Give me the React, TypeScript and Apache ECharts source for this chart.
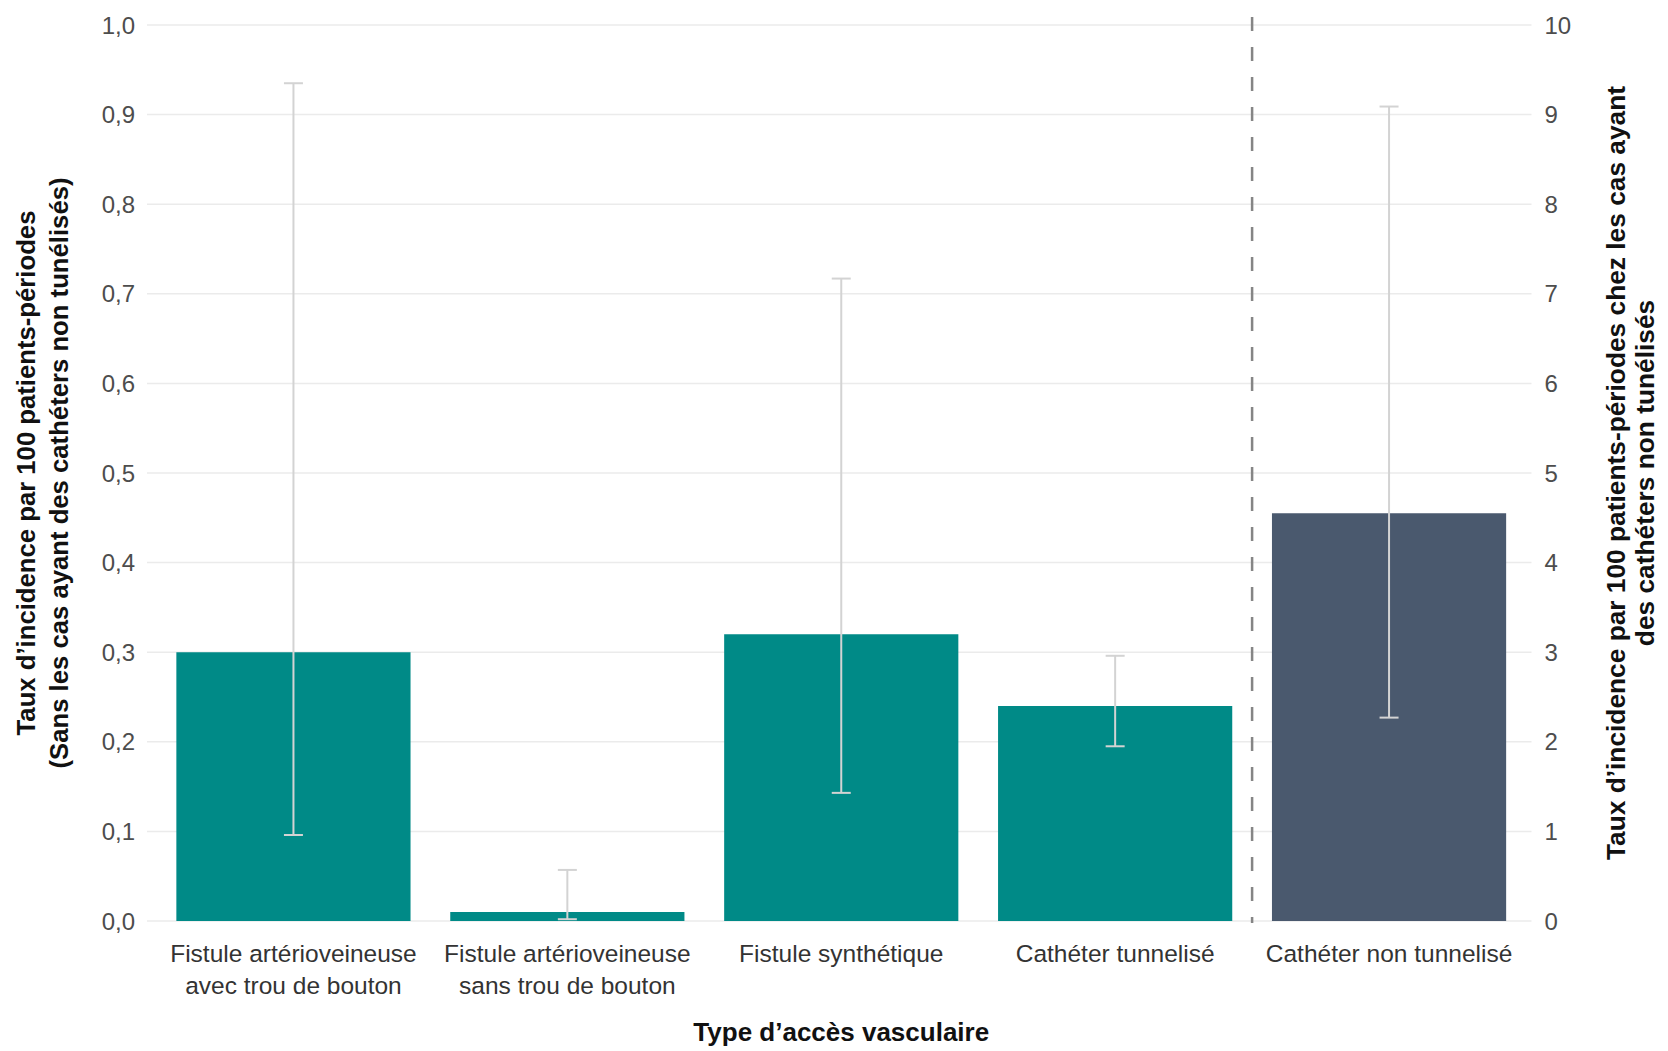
import React, { useEffect, useRef } from "react";
import * as echarts from "echarts";

// ---------- data ----------
const categories = [
  "Fistule artérioveineuse\navec trou de bouton",
  "Fistule artérioveineuse\nsans trou de bouton",
  "Fistule synthétique",
  "Cathéter tunnelisé",
  "Cathéter non tunnelisé",
];
// left axis (0–1): cases without non-tunnelled catheters
const leftValues: (number | null)[] = [0.3, 0.01, 0.32, 0.24, null];
const leftLow: (number | null)[] = [0.096, 0.002, 0.143, 0.195, null];
const leftHigh: (number | null)[] = [0.935, 0.057, 0.717, 0.296, null];
// right axis (0–10): non-tunnelled catheters
const rightValues: (number | null)[] = [null, null, null, null, 4.55];
const rightLow: (number | null)[] = [null, null, null, null, 2.27];
const rightHigh: (number | null)[] = [null, null, null, null, 9.09];
const leftAxisMin = 0;
const leftAxisMax = 1;
const leftAxisStep = 0.1;
const rightAxisMin = 0;
const rightAxisMax = 10;
const rightAxisStep = 1;
const separatorAfterIndex = 3;

const leftAxisTitle =
  "Taux d’incidence par 100 patients-périodes\n(Sans les cas ayant des cathéters non tunélisés)";
const rightAxisTitle =
  "Taux d’incidence par 100 patients-périodes chez les cas ayant\ndes cathéters non tunélisés";
const xAxisTitle = "Type d’accès vasculaire";

const FONT = "'Liberation Sans', Arial, sans-serif";

// tick values of the left axis (for the horizontal grid lines)
const leftTicks: number[] = [];
for (let i = 0; i <= Math.round((leftAxisMax - leftAxisMin) / leftAxisStep); i++) {
  leftTicks.push(+(leftAxisMin + i * leftAxisStep).toFixed(6));
}

function errorData(lo: (number | null)[], hi: (number | null)[]) {
  const out: number[][] = [];
  lo.forEach((l, i) => {
    const h = hi[i];
    if (l != null && h != null) out.push([i, l, h]);
  });
  return out;
}

const errorRender = (params: any, api: any) => {
  const x = api.value(0);
  const pLo = api.coord([x, api.value(1)]);
  const pHi = api.coord([x, api.value(2)]);
  const half = 9.5;
  const style = { stroke: "#d3d3d3", lineWidth: 2, fill: "none" };
  return {
    type: "group",
    children: [
      { type: "line", shape: { x1: pHi[0], y1: pHi[1], x2: pLo[0], y2: pLo[1] }, style },
      { type: "line", shape: { x1: pHi[0] - half, y1: pHi[1], x2: pHi[0] + half, y2: pHi[1] }, style },
      { type: "line", shape: { x1: pLo[0] - half, y1: pLo[1], x2: pLo[0] + half, y2: pLo[1] }, style },
    ],
  };
};

export default function App() {
  const ref = useRef<HTMLDivElement>(null);
  useEffect(() => {
    if (!ref.current) return;
    const chart = echarts.init(ref.current, undefined, { renderer: "svg" });
    chart.setOption({
      animation: false,
      backgroundColor: "#ffffff",
      textStyle: { fontFamily: FONT },
      grid: { left: 156.5, right: 136.5, top: 25, bottom: 125, containLabel: false },
      xAxis: {
        type: "category",
        data: categories,
        boundaryGap: true,
        axisLine: { show: false },
        axisTick: { show: false },
        splitLine: { show: false },
        axisLabel: {
          interval: 0,
          margin: 16,
          fontSize: 24.5,
          lineHeight: 32,
          color: "#333333",
          fontFamily: FONT,
        },
        name: xAxisTitle,
        nameLocation: "middle",
        nameGap: 97,
        nameTextStyle: { fontSize: 26, fontWeight: "bold", color: "#111111", fontFamily: FONT, lineHeight: 28 },
      },
      yAxis: [
        {
          type: "value",
          position: "left",
          min: leftAxisMin,
          max: leftAxisMax,
          interval: leftAxisStep,
          axisLine: { show: false },
          axisTick: { show: false },
          splitLine: { show: false },
          axisLabel: {
            margin: 21.5,
            fontSize: 24,
            color: "#4d4d4d",
            fontFamily: FONT,
            formatter: (v: number) => v.toFixed(1).replace(".", ","),
          },
          name: leftAxisTitle,
          nameLocation: "middle",
          nameRotate: 90,
          nameGap: 81,
          nameTextStyle: { fontSize: 25.7, fontWeight: "bold", color: "#111111", lineHeight: 33, fontFamily: FONT },
        },
        {
          type: "value",
          position: "right",
          min: rightAxisMin,
          max: rightAxisMax,
          interval: rightAxisStep,
          axisLine: { show: false },
          axisTick: { show: false },
          splitLine: { show: false },
          axisLabel: { margin: 18.5, fontSize: 24, color: "#4d4d4d", fontFamily: FONT },
          name: rightAxisTitle,
          nameLocation: "middle",
          nameRotate: 90,
          nameGap: 75,
          nameTextStyle: { fontSize: 26.3, fontWeight: "bold", color: "#111111", lineHeight: 29.5, fontFamily: FONT },
        },
      ],
      series: [
        {
          // horizontal grid lines, a little wider than the category band (ggplot expansion)
          type: "custom",
          yAxisIndex: 0,
          silent: true,
          data: leftTicks.map((t) => [0, t]),
          encode: { x: 0, y: 1 },
          renderItem: (params: any, api: any) => {
            const cs = params.coordSys;
            const y = api.coord([0, api.value(1)])[1];
            return {
              type: "line",
              shape: { x1: cs.x - 9.5, y1: y, x2: cs.x + cs.width + 5.5, y2: y },
              style: { stroke: "#ebebeb", lineWidth: 1.5 },
            };
          },
          z: 0,
        },
        {
          type: "bar",
          yAxisIndex: 0,
          data: leftValues.map((v) => (v == null ? "-" : v)),
          barWidth: "85.5%",
          barGap: "-100%",
          itemStyle: { color: "#008a87" },
          z: 2,
        },
        {
          type: "bar",
          yAxisIndex: 1,
          data: rightValues.map((v) => (v == null ? "-" : v)),
          barWidth: "85.5%",
          barGap: "-100%",
          itemStyle: { color: "#4a596e" },
          z: 2,
        },
        {
          type: "custom",
          yAxisIndex: 0,
          data: errorData(leftLow, leftHigh),
          encode: { x: 0, y: [1, 2] },
          renderItem: errorRender,
          z: 5,
        },
        {
          type: "custom",
          yAxisIndex: 1,
          data: errorData(rightLow, rightHigh),
          encode: { x: 0, y: [1, 2] },
          renderItem: errorRender,
          z: 5,
        },
        {
          type: "custom",
          yAxisIndex: 0,
          data: [[separatorAfterIndex, leftAxisMin, leftAxisMax]],
          encode: { x: 0, y: [1, 2] },
          renderItem: (params: any, api: any) => {
            const idx = api.value(0);
            const pBot = api.coord([idx, api.value(1)]);
            const pTop = api.coord([idx, api.value(2)]);
            const w = api.size([1, 0])[0];
            const x = pBot[0] + w / 2;
            return {
              type: "line",
              shape: { x1: x, y1: pTop[1] - 8, x2: x, y2: pBot[1] + 2 },
              style: { stroke: "#858585", lineWidth: 2.5, lineDash: [14, 16] },
            };
          },
          z: 4,
        },
      ],
    });
    return () => chart.dispose();
  }, []);
  return (
    <div
      ref={ref}
      style={{ position: "absolute", left: 0, top: 0, width: 1668, height: 1051 }}
    />
  );
}
